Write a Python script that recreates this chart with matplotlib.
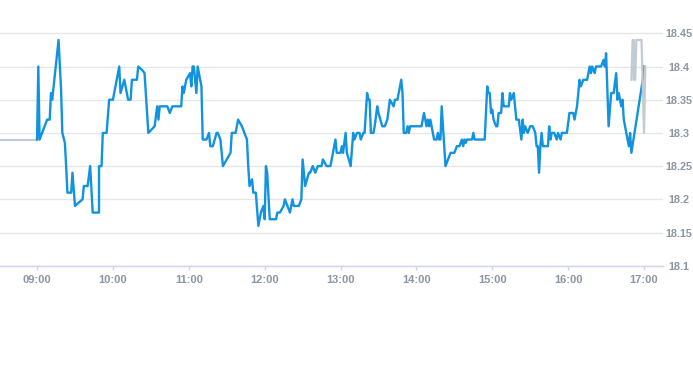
import matplotlib
matplotlib.use("Agg")
import matplotlib.pyplot as plt

# ---------------- data ----------------
blue_times = [
    "09:00", "09:01", "09:02", "09:08", "09:10", "09:11", "09:12", "09:17", "09:19", "09:20",
    "09:22", "09:23", "09:24", "09:27", "09:28", "09:30", "09:36", "09:37", "09:40", "09:42",
    "09:44", "09:49", "09:49", "09:51", "09:52", "09:55", "09:57", "10:00", "10:05", "10:06",
    "10:09", "10:12", "10:14", "10:15", "10:19", "10:20", "10:23", "10:25", "10:28", "10:33",
    "10:35", "10:36", "10:37", "10:43", "10:45", "10:47", "10:54", "10:55", "10:56", "10:58",
    "11:01", "11:02", "11:03", "11:04", "11:06", "11:07", "11:10", "11:11", "11:14", "11:16",
    "11:17", "11:19", "11:22", "11:23", "11:25", "11:27", "11:33", "11:34", "11:37", "11:39",
    "11:42", "11:44", "11:46", "11:47", "11:48", "11:50", "11:51", "11:53", "11:55", "11:57",
    "11:59", "12:00", "12:01", "12:02", "12:04", "12:09", "12:10", "12:12", "12:15", "12:16",
    "12:18", "12:20", "12:22", "12:23", "12:27", "12:29", "12:30", "12:32", "12:35", "12:36",
    "12:38", "12:40", "12:42", "12:45", "12:46", "12:49", "12:52", "12:54", "12:56", "12:57",
    "13:00", "13:01", "13:02", "13:04", "13:05", "13:08", "13:10", "13:11", "13:13", "13:15",
    "13:16", "13:18", "13:19", "13:21", "13:22", "13:23", "13:24", "13:26", "13:27", "13:29",
    "13:30", "13:33", "13:35", "13:37", "13:39", "13:42", "13:43", "13:45", "13:48", "13:49",
    "13:50", "13:52", "13:53", "13:54", "13:55", "14:04", "14:05", "14:06", "14:08", "14:09",
    "14:10", "14:11", "14:12", "14:13", "14:14", "14:16", "14:17", "14:18", "14:19", "14:20",
    "14:23", "14:27", "14:30", "14:32", "14:34", "14:36", "14:37", "14:38", "14:39", "14:40",
    "14:44", "14:45", "14:46", "14:54", "14:56", "14:57", "14:58", "14:59", "15:00", "15:01",
    "15:03", "15:04", "15:05", "15:07", "15:08", "15:09", "15:13", "15:14", "15:15", "15:17",
    "15:18", "15:19", "15:21", "15:23", "15:24", "15:25", "15:26", "15:28", "15:30", "15:32",
    "15:34", "15:35", "15:36", "15:37", "15:38", "15:39", "15:40", "15:44", "15:45", "15:46",
    "15:47", "15:49", "15:51", "15:52", "15:54", "15:55", "15:59", "16:01", "16:04", "16:05",
    "16:07", "16:08", "16:09", "16:10", "16:12", "16:15", "16:17", "16:18", "16:19", "16:21",
    "16:22", "16:26", "16:28", "16:29", "16:30", "16:32", "16:34", "16:36", "16:38", "16:39",
    "16:40", "16:42", "16:43", "16:44", "16:46", "16:48", "16:49", "16:50", "16:59", "17:00",
]
blue_values = [
    18.29, 18.40, 18.29, 18.32, 18.32, 18.36, 18.35, 18.44, 18.365, 18.30,
    18.285, 18.25, 18.21, 18.21, 18.24, 18.19, 18.20, 18.22, 18.22, 18.25,
    18.18, 18.18, 18.25, 18.25, 18.30, 18.30, 18.35, 18.35, 18.40, 18.36,
    18.38, 18.35, 18.35, 18.38, 18.38, 18.40, 18.395, 18.39, 18.30, 18.31,
    18.34, 18.32, 18.34, 18.34, 18.33, 18.34, 18.34, 18.37, 18.36, 18.38,
    18.39, 18.37, 18.40, 18.40, 18.36, 18.40, 18.37, 18.29, 18.29, 18.30,
    18.28, 18.28, 18.30, 18.30, 18.29, 18.25, 18.27, 18.30, 18.30, 18.32,
    18.31, 18.30, 18.29, 18.25, 18.22, 18.23, 18.21, 18.21, 18.16, 18.18,
    18.19, 18.17, 18.25, 18.24, 18.17, 18.17, 18.18, 18.18, 18.19, 18.20,
    18.19, 18.18, 18.20, 18.19, 18.19, 18.20, 18.26, 18.22, 18.24, 18.24,
    18.25, 18.24, 18.25, 18.25, 18.26, 18.25, 18.25, 18.27, 18.29, 18.27,
    18.27, 18.28, 18.27, 18.30, 18.27, 18.25, 18.30, 18.29, 18.30, 18.30,
    18.29, 18.30, 18.30, 18.36, 18.35, 18.35, 18.30, 18.30, 18.31, 18.34,
    18.33, 18.31, 18.31, 18.32, 18.35, 18.34, 18.35, 18.35, 18.38, 18.36,
    18.30, 18.30, 18.31, 18.30, 18.31, 18.31, 18.32, 18.33, 18.31, 18.32,
    18.31, 18.32, 18.31, 18.30, 18.29, 18.29, 18.30, 18.29, 18.29, 18.34,
    18.25, 18.27, 18.27, 18.28, 18.28, 18.29, 18.28, 18.29, 18.285, 18.29,
    18.29, 18.30, 18.29, 18.29, 18.37, 18.36, 18.36, 18.33, 18.335, 18.32,
    18.31, 18.31, 18.33, 18.33, 18.36, 18.34, 18.34, 18.36, 18.35, 18.36,
    18.34, 18.32, 18.32, 18.29, 18.32, 18.30, 18.31, 18.30, 18.31, 18.31,
    18.30, 18.28, 18.28, 18.24, 18.28, 18.30, 18.28, 18.28, 18.31, 18.29,
    18.30, 18.30, 18.29, 18.30, 18.29, 18.30, 18.30, 18.33, 18.33, 18.32,
    18.34, 18.36, 18.38, 18.37, 18.38, 18.38, 18.40, 18.39, 18.40, 18.39,
    18.40, 18.40, 18.41, 18.40, 18.42, 18.31, 18.36, 18.36, 18.39, 18.35,
    18.36, 18.34, 18.35, 18.32, 18.30, 18.28, 18.30, 18.27, 18.38, 18.40,
]

pre_times = ["08:30", "09:00"]
pre_values = [18.29, 18.29]

post_times = ["16:50", "16:51", "16:52", "16:52", "16:53", "16:54", "16:58", "17:00", "17:01"]
post_values = [18.38, 18.44, 18.44, 18.38, 18.38, 18.44, 18.44, 18.30, 18.40]

x_tick_labels = ["09:00", "10:00", "11:00", "12:00", "13:00", "14:00", "15:00", "16:00", "17:00"]
y_ticks = [18.1, 18.15, 18.2, 18.25, 18.3, 18.35, 18.4, 18.45]
y_tick_labels = ["18.1", "18.15", "18.2", "18.25", "18.3", "18.35", "18.4", "18.45"]


def to_hours(t):
    h, m = t.split(":")
    return int(h) + int(m) / 60.0


# ---------------- figure ----------------
W, H = 693, 365
fig = plt.figure(figsize=(W / 100, H / 100), dpi=100)
ax_left, ax_right = 0.0, 663 / W
ax_bottom = (H - 265.7) / H
ax_top = (H - 30.0) / H
ax = fig.add_axes([ax_left, ax_bottom, ax_right - ax_left, ax_top - ax_bottom])

blue = "#1193e0"
gray_line = "#c2cad2"
label_color = "#8a96a3"

ax.plot([to_hours(t) for t in pre_times], pre_values, color=gray_line, lw=1.6, zorder=3,
        solid_joinstyle="round")
ax.plot([to_hours(t) for t in blue_times], blue_values, color=blue, lw=1.7, zorder=4,
        solid_joinstyle="round")
ax.plot([to_hours(t) for t in post_times], post_values, color=gray_line, lw=1.6, zorder=5,
        solid_joinstyle="round")

ax.set_xlim(9 - 29.3 / 60, 9 + 495 / 60)
ax.set_ylim(18.1, 18.45 + 3.3 / 664)

ax.set_xticks([to_hours(t) for t in x_tick_labels])
ax.set_xticklabels(x_tick_labels)
ax.set_yticks(y_ticks)
ax.set_yticklabels(y_tick_labels)

ax.yaxis.tick_right()
ax.grid(axis="y", color="#e6e6e6", lw=1.0)
ax.set_axisbelow(True)

for s in ["top", "left", "right"]:
    ax.spines[s].set_visible(False)
ax.spines["bottom"].set_color("#ccd6eb")
ax.spines["bottom"].set_linewidth(1.0)

ax.tick_params(axis="x", length=3, width=1, color="#ccd6eb", pad=4,
               labelsize=8, labelcolor=label_color)
ax.tick_params(axis="y", length=0, pad=11.5, labelsize=7.8, labelcolor=label_color)
for lab in ax.get_xticklabels() + ax.get_yticklabels():
    lab.set_fontfamily("Liberation Sans")
    lab.set_fontweight("bold")
for lab in ax.get_yticklabels():
    lab.set_horizontalalignment("center")

fig.savefig("out.png", dpi=100)
